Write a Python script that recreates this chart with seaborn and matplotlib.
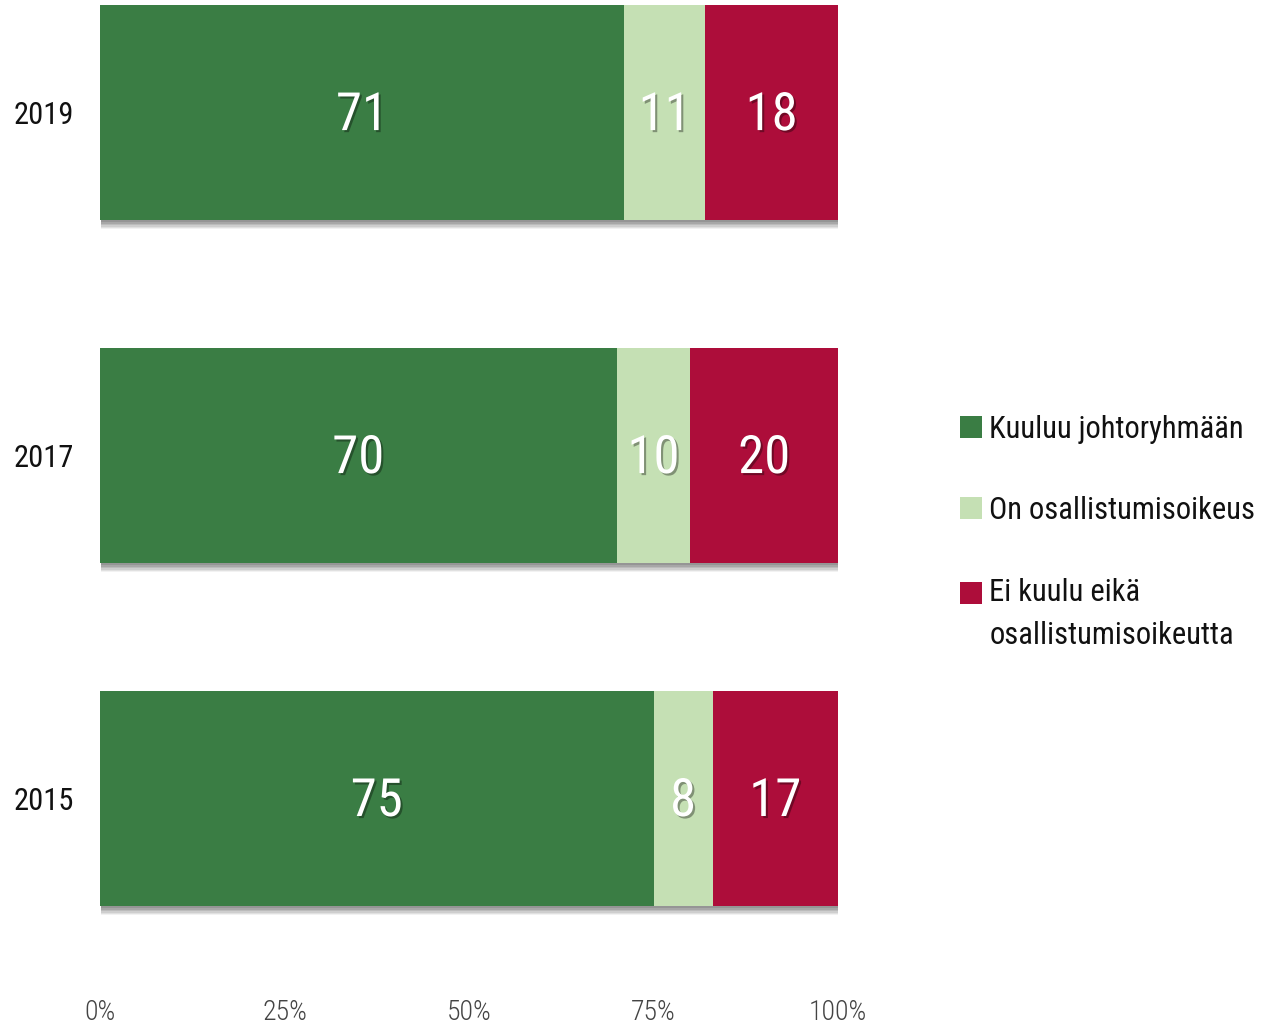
import matplotlib
matplotlib.use("Agg")
import matplotlib.pyplot as plt
import matplotlib.patheffects as pe
from matplotlib.patches import Patch
import seaborn as sns
import pandas as pd

years = ["2019", "2017", "2015"]
kuuluu = [71, 70, 75]
osallistumis = [11, 10, 8]
ei_kuulu = [18, 20, 17]
series_names = ["Kuuluu johtoryhmään", "On osallistumisoikeus",
                "Ei kuulu eikä\nosallistumisoikeutta"]
colors = ["#3a7d44", "#c5e0b4", "#ad0d3a"]
xticks = [0, 25, 50, 75, 100]
xtick_labels = ["0%", "25%", "50%", "75%", "100%"]

sns.set_theme(style="white")
plt.rcParams['font.family'] = ['Roboto Condensed', 'Barlow Condensed', 'Liberation Sans Narrow',
                               'DejaVu Sans']

df = pd.DataFrame({"year": years, "k": kuuluu, "o": osallistumis, "e": ei_kuulu})
df["c1"] = df["k"]
df["c2"] = df["k"] + df["o"]
df["c3"] = df["k"] + df["o"] + df["e"]

fig = plt.figure(figsize=(12.73, 10.25), dpi=100)
ax = fig.add_axes([100 / 1273, 1 - 985 / 1025, 738 / 1273, 985 / 1025])

bw = 0.627
sns.barplot(data=df, x="c3", y="year", order=years, color=colors[2], width=bw,
            orient="h", ax=ax, saturation=1, linewidth=0, edgecolor="none")
shadow_fx = [pe.SimplePatchShadow(offset=(1, -d), shadow_rgbFace="#000000", alpha=a)
             for d, a in [(7, 0.05), (6, 0.07), (5, 0.08), (4, 0.09), (3, 0.1), (2, 0.1)]]
for p in ax.patches:
    p.set_path_effects(shadow_fx + [pe.Normal()])
sns.barplot(data=df, x="c2", y="year", order=years, color=colors[1], width=bw,
            orient="h", ax=ax, saturation=1, linewidth=0, edgecolor="none")
sns.barplot(data=df, x="c1", y="year", order=years, color=colors[0], width=bw,
            orient="h", ax=ax, saturation=1, linewidth=0, edgecolor="none")
if ax.get_legend() is not None:
    ax.get_legend().remove()

ax.set_xlim(0, 100)
ax.set_ylim(2.545, -0.327)
ax.set_xlabel("")
ax.set_ylabel("")
ax.set_xticks(xticks)
ax.set_xticklabels(xtick_labels, fontsize=20, color="#444444", fontweight="light")
ax.tick_params(axis="y", labelsize=22, colors="#111111", pad=19, length=0)
ax.tick_params(axis="x", length=0, pad=10)
for s in ax.spines.values():
    s.set_visible(False)

shadow = [pe.withSimplePatchShadow(offset=(1.5, -1.5), shadow_rgbFace="#000000", alpha=0.35)]
for i, y in enumerate(years):
    starts = [0, df["c1"][i], df["c2"][i]]
    vals = [df["k"][i], df["o"][i], df["e"][i]]
    for s0, v in zip(starts, vals):
        ax.text(s0 + v / 2, i + 0.01, str(v), ha="center", va="center", color="white",
                fontsize=38, path_effects=shadow)

handles = [Patch(facecolor=c, edgecolor="none") for c in colors]
leg = fig.legend(handles, series_names, loc="upper left",
                 bbox_to_anchor=(932 / 1273, 1 - 387 / 1025),
                 frameon=False, fontsize=22, handlelength=0.72, handleheight=0.72,
                 handletextpad=0.25, labelspacing=1.72)
for t in leg.get_texts():
    t.set_color("#111111")
    t.set_linespacing(1.64)
h3 = leg.legend_handles[2]
h3.set_y(h3.get_y() + 15.8)

fig.savefig("out.png", dpi=100)
